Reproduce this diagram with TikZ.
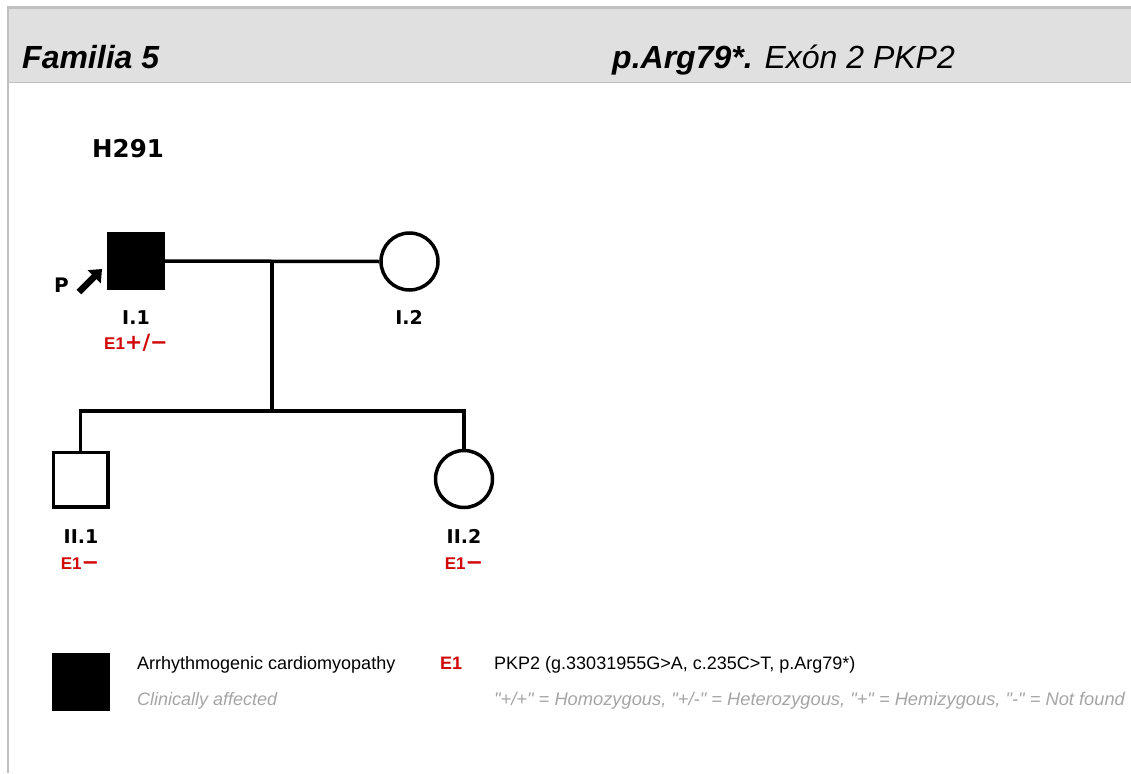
\documentclass[tikz,border=0pt]{standalone}
\usepackage{fontspec}
\setmainfont{Liberation Sans}
\newfontfamily\rawsans{Liberation Sans}[Ligatures=TeXOff]
\newfontfamily\verd{DejaVu Sans}
\usetikzlibrary{arrows.meta}
\definecolor{framegray}{RGB}{192,192,192}
\definecolor{headgray}{RGB}{224,224,224}
\definecolor{notegray}{RGB}{165,165,165}
\definecolor{allelered}{RGB}{208,8,8}
\newcommand{\fs}[1]{\fontsize{#1}{#1}\selectfont}
\tikzset{
  pedline/.style={line width=3.5pt, black},
  male/.style={draw, rectangle, line width=3.5pt, minimum size=54.5pt, inner sep=0pt},
  female/.style={draw, circle, line width=3.5pt, minimum size=57pt, inner sep=0pt},
  affected/.style={fill=black},
  txt/.style={inner sep=0pt, anchor=base},
  txtw/.style={inner sep=0pt, anchor=base west},
  idlabel/.style={txt, font=\verd\bfseries\fs{19}},
  allele/.style={txt, text=allelered},
}
\newcommand{\eone}{{\fs{17}\bfseries E1}}
\newcommand{\gsign}[1]{{\verd\bfseries\fs{21}#1}}
\begin{document}
\begin{tikzpicture}[x=1pt, y=-1pt]
  \useasboundingbox (0,0) rectangle (1131,773);
  % page frame and title band
  \fill[headgray] (8,8) rectangle (1131,82);
  \draw[framegray, line width=3pt] (6.5,7.5) -- (1131,7.5);
  \draw[framegray, line width=1.5pt] (8,82.5) -- (1131,82.5);
  \draw[framegray, line width=2.5pt] (8,6) -- (8,773);
  \node[txtw, font=\fs{32}\bfseries\itshape] (fam) at (22,69) {Familia 5};
  \node[txtw, font=\fs{32}\itshape] (mut) at (612,69) {\textbf{p.Arg79*.} Exón 2 PKP2};
  \node[txtw, font=\verd\bfseries\fs{24.5}] (hid) at (92,157) {H291};

  % generation I
  \node[male, affected] (I1) at (136,261) {};
  \node[female] (I2) at (409.5,261.5) {};
  \coordinate (mate) at (272,261);
  \coordinate (sib) at (272,411);
  % generation II
  \node[male] (II1) at (80.5,479.5) {};
  \node[female] (II2) at (464,479) {};

  \draw[pedline] (I1.east) -- (I2.west);
  \draw[pedline] (mate) -- (sib);
  \draw[pedline] (II1.north) |- (sib) -| (II2.north);

  % proband marker
  \node[txt, font=\verd\bfseries\fs{20}] (plab) at (61.5,292) {P};
  \coordinate (ptail) at (79,292);
  \coordinate (phead) at (102,269);
  \draw[line width=6.5pt, -{Triangle[length=11pt, width=18pt]}] (ptail) -- (phead);

  % individual labels and genotypes
  \node[idlabel] (l1) at (136,324) {I.1};
  \node[allele] (g1) at (136,349) {\eone\gsign{+/−}};
  \node[idlabel] (l2) at (409,324) {I.2};
  \node[idlabel] (l3) at (81,543) {II.1};
  \node[allele] (g3) at (80,569) {\eone\gsign{−}};
  \node[idlabel] (l4) at (464,543) {II.2};
  \node[allele] (g4) at (464,569) {\eone\gsign{−}};

  % legend
  \node[rectangle, fill=black, minimum size=58pt, inner sep=0pt] (legsq) at (81,682) {};
  \node[txtw, font=\fs{18}] (leg1) at (137,669) {Arrhythmogenic cardiomyopathy};
  \node[txtw, font=\fs{18}\itshape, text=notegray] (leg2) at (137,705) {Clinically affected};
  \node[txtw, font=\fs{18}\bfseries, text=allelered] (leg3) at (440,669) {E1};
  \node[txtw, font=\fs{18}] (leg4) at (494,669) {PKP2 (g.33031955G>A, c.235C>T, p.Arg79*)};
  \node[txtw, font=\rawsans\fs{18.3}\itshape, text=notegray] (leg5) at (494,705)
    {"+/+" = Homozygous, "+/-" = Heterozygous, "+" = Hemizygous, "-" = Not found};
\end{tikzpicture}
\end{document}
